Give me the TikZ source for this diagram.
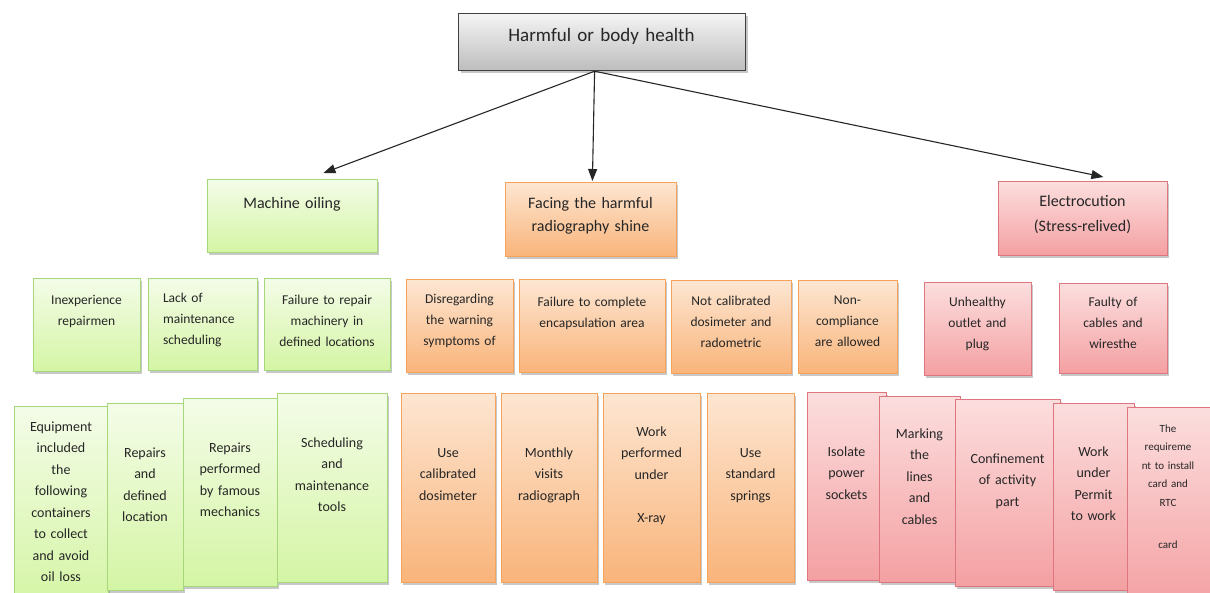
\documentclass[tikz,border=0pt]{standalone}
\usepackage{fontspec}
\setmainfont{Carlito}
\usepackage{tikz}
\usetikzlibrary{shadows, arrows.meta}

\definecolor{headTop}{HTML}{F4F4F4}
\definecolor{headBottom}{HTML}{BDBDBD}
\definecolor{headEdge}{HTML}{404040}
\definecolor{oilTop}{HTML}{F4FCE8}
\definecolor{oilBottom}{HTML}{D4F5A4}
\definecolor{oilEdge}{HTML}{A6D77A}
\definecolor{rayTop}{HTML}{FDE6D2}
\definecolor{rayBottom}{HTML}{F9B47A}
\definecolor{rayEdge}{HTML}{F5A25A}
\definecolor{elecTop}{HTML}{FCDEDE}
\definecolor{elecBottom}{HTML}{F4A0A2}
\definecolor{elecEdge}{HTML}{DD767E}

\begin{document}
\begin{tikzpicture}[x=1pt, y=-1pt,
    box/.style={draw, line width=0.8pt, inner sep=0pt, anchor=north west,
        drop shadow={shadow xshift=2pt, shadow yshift=-2.5pt, opacity=0.3, fill=black!70}},
    headbox/.style={box, draw=headEdge, line width=1.2pt, top color=headTop, bottom color=headBottom},
    oilbox/.style={box, draw=oilEdge, top color=oilTop, bottom color=oilBottom},
    raybox/.style={box, draw=rayEdge, top color=rayTop, bottom color=rayBottom},
    elecbox/.style={box, draw=elecEdge, top color=elecTop, bottom color=elecBottom},
    txt/.style={anchor=base, align=center, inner sep=0pt, text width=130pt, text=black!85},
    rowone/.style={txt, font=\fontsize{16}{24}\selectfont},
    rowtwo/.style={txt, font=\fontsize{13.5}{21}\selectfont},
    rowthree/.style={txt, font=\fontsize{14}{21.5}\selectfont},
    link/.style={line width=1.1pt, black!85, -{Triangle[length=12pt, width=9pt]}}]

    \fill[white] (0,0) rectangle (1210,592);
    \useasboundingbox (0,0) rectangle (1210,592);

    % top and first level
    \node[headbox, minimum width=287pt, minimum height=57pt] (top) at (458,13) {};
    \node[txt, text width=270pt, font=\fontsize{19}{24}\selectfont] (topT) at (601.5,41) {Harmful or body health};
    \node[oilbox, minimum width=170pt, minimum height=73pt] (oil) at (207,179) {};
    \node[rowone] (oilT) at (292,208) {Machine oiling};
    \node[raybox, minimum width=171pt, minimum height=74pt] (ray) at (505,182) {};
    \node[rowone, font=\fontsize{16}{23}\selectfont] (rayT) at (590.5,208) {Facing the harmful\\radiography shine};
    \node[elecbox, minimum width=169pt, minimum height=74pt] (elec) at (998,181) {};
    \node[rowone, font=\fontsize{16}{25}\selectfont] (elecT) at (1082.5,206) {Electrocution\\(Stress-relived)};

    \draw[link] ([xshift=-7.5pt]top.south) -- ([xshift=31pt, yshift=6pt]oil.north);
    \draw[link] ([xshift=-7.5pt]top.south) -- ([xshift=1.5pt, yshift=1pt]ray.north);
    \draw[link] ([xshift=-7.5pt]top.south) -- ([xshift=20.5pt, yshift=4pt]elec.north);

    % second level
    \node[oilbox, minimum width=107pt, minimum height=93pt] (inexp) at (33,278) {};
    \node[rowtwo] (inexpT) at (86.5,304) {Inexperience\\repairmen};
    \node[oilbox, minimum width=109pt, minimum height=92pt] (lack) at (148,278) {};
    \node[rowtwo, align=left, text width=80pt] (lackT) at (203,302) {Lack of\\maintenance\\scheduling};
    \node[oilbox, minimum width=126pt, minimum height=92pt] (fail) at (264,278) {};
    \node[rowtwo] (failT) at (327,304) {Failure to repair\\machinery in\\defined locations};
    \node[raybox, minimum width=107pt, minimum height=93pt] (disreg) at (406,279) {};
    \node[rowtwo] (disregT) at (459.5,303) {Disregarding\\the warning\\symptoms of};
    \node[raybox, minimum width=146pt, minimum height=93pt] (encap) at (519,279) {};
    \node[rowtwo] (encapT) at (592,306) {Failure to complete\\encapsulation area};
    \node[raybox, minimum width=120pt, minimum height=93pt] (notcal) at (671,280) {};
    \node[rowtwo] (notcalT) at (731,305) {Not calibrated\\dosimeter and\\radometric};
    \node[raybox, minimum width=99pt, minimum height=93pt] (noncomp) at (798,280) {};
    \node[rowtwo] (noncompT) at (847.5,304) {Non-\\compliance\\are allowed};
    \node[elecbox, minimum width=107pt, minimum height=93pt] (unheal) at (924,282) {};
    \node[rowtwo] (unhealT) at (977.5,306) {Unhealthy\\outlet and\\plug};
    \node[elecbox, minimum width=108pt, minimum height=90pt] (faulty) at (1059,283) {};
    \node[rowtwo] (faultyT) at (1113,306) {Faulty of\\cables and\\wiresthe};

    % third level
    \node[oilbox, minimum width=94pt, minimum height=200pt] (equip) at (14,406) {};
    \node[rowthree] (equipT) at (61,431) {Equipment\\included\\the\\following\\containers\\to collect\\and avoid\\oil loss};
    \node[oilbox, minimum width=76pt, minimum height=187pt] (repdef) at (107,403) {};
    \node[rowthree] (repdefT) at (145,457) {Repairs\\and\\defined\\location};
    \node[oilbox, minimum width=94pt, minimum height=188pt] (repfam) at (183,398) {};
    \node[rowthree] (repfamT) at (230,452) {Repairs\\performed\\by famous\\mechanics};
    \node[oilbox, minimum width=110pt, minimum height=189pt] (sched) at (277,393) {};
    \node[rowthree] (schedT) at (332,447) {Scheduling\\and\\maintenance\\tools};

    \node[raybox, minimum width=94pt, minimum height=189pt] (usecal) at (401,393) {};
    \node[rowthree] (usecalT) at (448,457) {Use\\calibrated\\dosimeter};
    \node[raybox, minimum width=96pt, minimum height=189pt] (month) at (501,393) {};
    \node[rowthree] (monthT) at (549,457) {Monthly\\visits\\radiograph};
    \node[raybox, minimum width=97pt, minimum height=189pt] (xray) at (603,393) {};
    \node[rowthree] (xrayT) at (651.5,436) {Work\\performed\\under\\[22pt]X-ray};
    \node[raybox, minimum width=87pt, minimum height=189pt] (spring) at (707,393) {};
    \node[rowthree] (springT) at (750.5,457) {Use\\standard\\springs};

    \node[elecbox, minimum width=79pt, minimum height=188pt] (isol) at (807,392) {};
    \node[rowthree] (isolT) at (846.5,456) {Isolate\\power\\sockets};
    \node[elecbox, minimum width=81pt, minimum height=186pt] (mark) at (879,396) {};
    \node[rowthree] (markT) at (919.5,438) {Marking\\the\\lines\\and\\cables};
    \node[elecbox, minimum width=105pt, minimum height=187pt] (conf) at (955,399) {};
    \node[rowthree] (confT) at (1007.5,463) {Confinement\\of activity\\part};
    \node[elecbox, minimum width=81pt, minimum height=187pt] (permit) at (1053,403) {};
    \node[rowthree] (permitT) at (1093.5,456) {Work\\under\\Permit\\to work};
    \node[elecbox, minimum width=90pt, minimum height=200pt] (rtc) at (1127,407) {};
    \node[txt, font=\fontsize{11}{18.5}\selectfont] (rtcT) at (1168,432) {The\\requireme\\nt to install\\card and\\RTC\\[23.5pt]card};
\end{tikzpicture}
\end{document}
